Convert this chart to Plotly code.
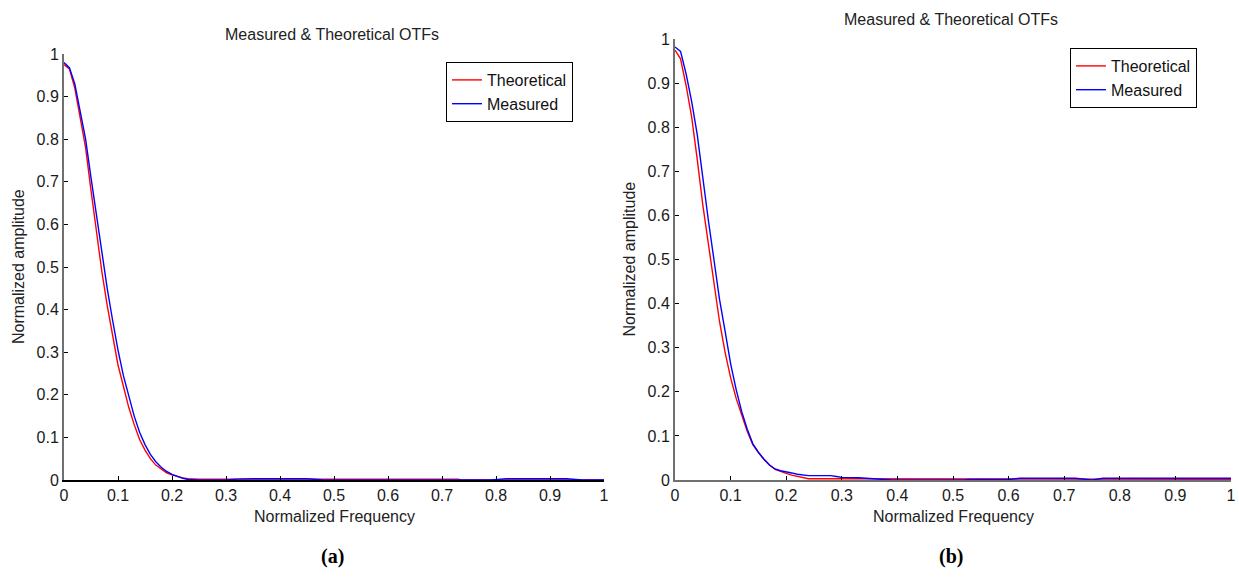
import plotly.graph_objects as go

# ---------------- data ----------------
freq_grid = [0.00, 0.01, 0.02, 0.03, 0.04, 0.05, 0.06, 0.07, 0.08, 0.09,
             0.10, 0.11, 0.12, 0.13, 0.14, 0.15, 0.16, 0.17, 0.18, 0.19,
             0.20, 0.21, 0.22, 0.23, 0.24, 0.25]

# panel (a)
a_theo_x = freq_grid + [0.50, 0.73, 0.735, 1.00]
a_theo_y = [0.975, 0.965, 0.92, 0.85, 0.78, 0.68, 0.58, 0.49, 0.41, 0.34,
            0.27, 0.22, 0.17, 0.13, 0.095, 0.07, 0.05, 0.035, 0.025, 0.017,
            0.012, 0.008, 0.005, 0.003, 0.002, 0.002,
            0.002, 0.002, 0.0, 0.0]
a_meas_x = freq_grid + [0.30, 0.32, 0.35, 0.45, 0.48, 0.79, 0.82, 0.93, 0.96, 1.00]
a_meas_y = [0.98, 0.968, 0.93, 0.865, 0.80, 0.71, 0.62, 0.53, 0.45, 0.375,
            0.305, 0.245, 0.195, 0.15, 0.112, 0.083, 0.06, 0.043, 0.03, 0.02,
            0.013, 0.008, 0.004, 0.001, 0.0, 0.0,
            0.0, 0.002, 0.003, 0.003, 0.0, 0.0, 0.003, 0.003, 0.0, 0.0]

# panel (b)
b_theo_x = freq_grid + [0.60, 0.61, 1.00]
b_theo_y = [0.975, 0.955, 0.894, 0.823, 0.727, 0.624, 0.536, 0.448, 0.36, 0.29,
            0.232, 0.185, 0.145, 0.11, 0.08, 0.062, 0.047, 0.034, 0.024, 0.019,
            0.015, 0.011, 0.008, 0.005, 0.003, 0.003,
            0.003, 0.0015, 0.0015]
b_meas_x = freq_grid + [0.28, 0.29, 0.30, 0.33, 0.35, 0.37, 0.39, 0.52, 0.53, 0.60,
                        0.62, 0.72, 0.75, 0.77, 1.00]
b_meas_y = [0.982, 0.972, 0.921, 0.858, 0.783, 0.68, 0.589, 0.50, 0.41, 0.338,
            0.264, 0.205, 0.155, 0.115, 0.082, 0.063, 0.047, 0.034, 0.025, 0.021,
            0.019, 0.016, 0.013, 0.011, 0.01, 0.01,
            0.01, 0.008, 0.006, 0.005, 0.003, 0.002, 0.0, 0.0, 0.001, 0.001,
            0.004, 0.004, 0.0, 0.004, 0.004]

tick_vals = [0, 0.1, 0.2, 0.3, 0.4, 0.5, 0.6, 0.7, 0.8, 0.9, 1]
tick_text = ["0", "0.1", "0.2", "0.3", "0.4", "0.5", "0.6", "0.7", "0.8", "0.9", "1"]

title_text = "Measured & Theoretical OTFs"
x_title = "Normalized Frequency"
y_title = "Normalized amplitude"
panel_labels = ["(a)", "(b)"]
series_names = ["Theoretical", "Measured"]
colors = ["#ff0000", "#0000ff"]

# ---------------- figure ----------------
W, H = 1239, 580
FONT = "Liberation Sans, Arial, Helvetica, sans-serif"

fig = go.Figure()
fig.add_trace(go.Scatter(x=a_theo_x, y=a_theo_y, mode="lines", name=series_names[0],
                         line=dict(color=colors[0], width=1.4), xaxis="x", yaxis="y",
                         legend="legend"))
fig.add_trace(go.Scatter(x=a_meas_x, y=a_meas_y, mode="lines", name=series_names[1],
                         line=dict(color=colors[1], width=1.4), xaxis="x", yaxis="y",
                         legend="legend"))
fig.add_trace(go.Scatter(x=b_theo_x, y=b_theo_y, mode="lines", name=series_names[0],
                         line=dict(color=colors[0], width=1.4), xaxis="x2", yaxis="y2",
                         legend="legend2"))
fig.add_trace(go.Scatter(x=b_meas_x, y=b_meas_y, mode="lines", name=series_names[1],
                         line=dict(color=colors[1], width=1.4), xaxis="x2", yaxis="y2",
                         legend="legend2"))

def px_x(p):
    return p / W

def px_y(p):
    return 1 - p / H

# axes pixel boxes
A = dict(l=64, r=604, t=54, b=480)
B = dict(l=675, r=1231, t=39, b=480)

def xaxis(box, anchor, linecolor):
    return dict(domain=[px_x(box["l"]), px_x(box["r"])], anchor=anchor, range=[0, 1],
                tickvals=tick_vals, ticktext=tick_text, ticks="inside", ticklen=4,
                tickcolor="black", showgrid=False, zeroline=False, showline=True,
                linecolor=linecolor, linewidth=1.5, tickfont=dict(size=16, color="#1a1a1a"),
                automargin=False, fixedrange=True)

def yaxis(box, anchor):
    return dict(domain=[px_y(box["b"]), px_y(box["t"])], anchor=anchor, range=[0, 1],
                tickvals=tick_vals, ticktext=tick_text, ticks="inside", ticklen=4,
                tickcolor="black", showgrid=False, zeroline=False, showline=True,
                linecolor="#707070", linewidth=2, tickfont=dict(size=16, color="#1a1a1a"),
                automargin=False, fixedrange=True)

annotations = []
for box, lab in [(A, panel_labels[0]), (B, panel_labels[1])]:
    cx = (box["l"] + box["r"]) / 2
    annotations.append(dict(x=px_x(cx - 2), y=px_y(box["t"] - 19), xref="paper", yref="paper",
                            text=title_text, showarrow=False, xanchor="center", yanchor="middle",
                            font=dict(size=16, color="#222")))
    annotations.append(dict(x=px_x(cx), y=px_y(516), xref="paper", yref="paper",
                            text=x_title, showarrow=False, xanchor="center", yanchor="middle",
                            font=dict(size=16, color="#222")))
    annotations.append(dict(x=px_x(box["l"] - 46), y=px_y((box["t"] + box["b"]) / 2),
                            xref="paper", yref="paper", text=y_title, showarrow=False,
                            textangle=-90, xanchor="center", yanchor="middle",
                            font=dict(size=16, color="#222")))
    annotations.append(dict(x=px_x(cx - 2), y=px_y(556), xref="paper", yref="paper",
                            text="<b>" + lab + "</b>", showarrow=False, xanchor="center",
                            yanchor="middle",
                            font=dict(size=20, color="black",
                                      family="Liberation Serif, Times New Roman, serif")))

legend_style = dict(bgcolor="white", bordercolor="black", borderwidth=1,
                    font=dict(size=16, color="#111"), xanchor="left", yanchor="top",
                    tracegroupgap=0, itemwidth=30)

fig.update_layout(
    width=W, height=H,
    margin=dict(l=0, r=0, t=0, b=0, autoexpand=False),
    paper_bgcolor="white", plot_bgcolor="white",
    font=dict(family=FONT, color="#222"),
    xaxis=xaxis(A, "y", "black"),
    yaxis=yaxis(A, "x"),
    xaxis2=xaxis(B, "y2", "#707070"),
    yaxis2=yaxis(B, "x2"),
    legend=dict(x=px_x(446), y=px_y(62), **legend_style),
    legend2=dict(x=px_x(1070), y=px_y(48), **legend_style),
    annotations=annotations,
    showlegend=True,
)

fig.write_html("out.html",
               config={"displayModeBar": False, "staticPlot": True},
               post_script="document.body.style.margin='0px';"
                           "document.body.style.overflow='hidden';")
